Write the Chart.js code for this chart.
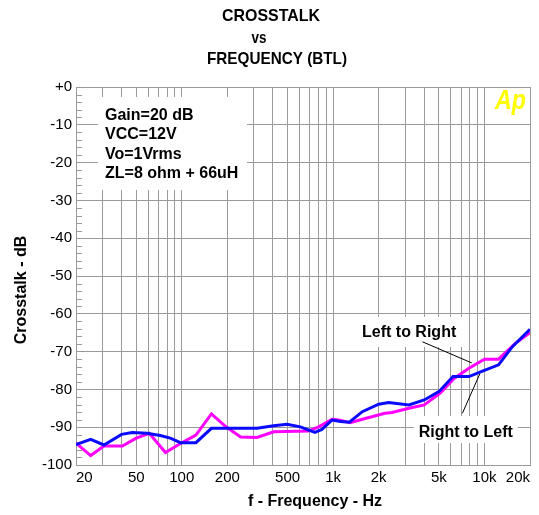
<!DOCTYPE html>
<html>
<head>
<meta charset="utf-8">
<title>Crosstalk vs Frequency (BTL)</title>
<script src="https://cdn.jsdelivr.net/npm/chart.js@4.4.1/dist/chart.umd.min.js"></script>
<style>
  html, body { margin: 0; padding: 0; background: #fff; }
</style>
</head>
<body>
<canvas id="xtalkChart" width="539" height="515"></canvas>
<script>
// curves (Hz / dB)
const rtlFreq = [20, 25, 30.6, 40, 47, 59, 72, 84, 98, 124, 157, 222, 314, 405, 496, 608, 758, 843, 985, 1120, 1280, 1560, 2000, 2330, 3170, 4000, 5000, 6200, 7900, 9800, 12400, 15300, 20000];
const rtlDb   = [-94.6, -93.2, -94.7, -91.9, -91.4, -91.6, -92.2, -92.9, -94.1, -94.1, -90.3, -90.3, -90.3, -89.6, -89.2, -89.9, -91.4, -90.6, -88.1, -88.5, -88.7, -85.9, -83.9, -83.5, -84.1, -82.8, -80.6, -76.6, -76.6, -75.1, -73.5, -68.7, -64.1];

const ltrFreq = [20, 25, 30.6, 40.5, 50, 61, 78, 98, 124, 157, 196, 222, 245, 314, 405, 688, 802, 985, 1090, 1300, 1560, 2200, 2450, 3170, 4000, 5100, 6300, 7900, 10000, 12400, 16000, 20000];
const ltrDb   = [-94.2, -97.5, -95.0, -95.0, -92.9, -91.6, -96.7, -94.3, -92.1, -86.5, -89.9, -91.4, -92.6, -92.7, -91.2, -91.0, -89.9, -87.9, -88.1, -88.8, -87.9, -86.3, -86.1, -85.0, -84.1, -81.0, -77.1, -74.4, -72.0, -72.0, -67.8, -65.0];

// axis ticks
const gridFreqs = [20, 30, 40, 50, 60, 70, 80, 90, 100, 200, 300, 400, 500, 600, 700, 800, 900,
                   1000, 2000, 3000, 4000, 5000, 6000, 7000, 8000, 9000, 10000, 20000];
const xLabelFreqs = [20, 50, 100, 200, 500, 1000, 2000, 5000, 10000, 20000];
const xLabelText  = ['20', '50', '100', '200', '500', '1k', '2k', '5k', '10k', '20k'];
const yTickValues = [0, -10, -20, -30, -40, -50, -60, -70, -80, -90, -100];
const yTickLabels = ['+0', '-10', '-20', '-30', '-40', '-50', '-60', '-70', '-80', '-90', '-100'];

const notes = ['Gain=20 dB', 'VCC=12V', 'Vo=1Vrms', 'ZL=8 ohm + 66uH'];

const FONT = '"Liberation Sans", Arial, sans-serif';
const GRID = '#9a9a9a';

function textBox(ctx, text, cx, base, w, above, below) {
  ctx.fillStyle = '#fff';
  ctx.fillRect(cx - w / 2, base - above, w, above + below);
  ctx.fillStyle = '#000';
  ctx.textAlign = 'center';
  ctx.fillText(text, cx, base);
}

const decorations = {
  id: 'decorations',
  beforeDatasetsDraw(chart) {
    const { ctx, chartArea: a, scales: { x, y } } = chart;
    const px = (f, db) => [x.getPixelForValue(f), y.getPixelForValue(db)];
    ctx.save();

    // minor ticks every 2 dB along the left edge
    ctx.strokeStyle = GRID;
    ctx.lineWidth = 1;
    for (let v = -98; v < 0; v += 2) {
      if (v % 10 === 0) continue;
      const py = Math.round(y.getPixelForValue(v)) + 0.5;
      ctx.beginPath();
      ctx.moveTo(a.left, py);
      ctx.lineTo(a.left + 6, py);
      ctx.stroke();
    }

    // test conditions
    ctx.fillStyle = '#fff';
    ctx.fillRect(a.left + 22, a.top + 10, 149, 93);
    ctx.fillStyle = '#000';
    ctx.font = 'bold 16px ' + FONT;
    ctx.textAlign = 'left';
    ctx.textBaseline = 'alphabetic';
    notes.forEach((t, i) => ctx.fillText(t, a.left + 29, a.top + 33 + i * 19.3));

    // curve labels + leaders
    let [lx, ly] = px(3180, -66.1);
    textBox(ctx, 'Left to Right', lx, ly, 110, 20, 10);
    let [rx, ry] = px(7530, -92.6);
    textBox(ctx, 'Right to Left', rx, ry, 104, 21, 6);

    ctx.strokeStyle = '#000';
    ctx.lineWidth = 1;
    ctx.beginPath();
    ctx.moveTo(...px(3890, -67.4));
    ctx.lineTo(...px(8250, -73.0));
    ctx.moveTo(...px(7150, -86.3));
    ctx.lineTo(...px(9320, -75.9));
    ctx.stroke();

    // Ap logo
    ctx.fillStyle = '#ffff00';
    ctx.font = 'italic bold 27px ' + FONT;
    ctx.textAlign = 'left';
    ctx.fillText('Ap', a.right - 35, a.top + 22, 31);
    ctx.restore();
  },
  afterDraw(chart) {
    const { ctx } = chart;
    ctx.save();
    ctx.fillStyle = '#000';
    ctx.textAlign = 'center';
    ctx.textBaseline = 'middle';
    ctx.font = 'bold 17px ' + FONT;
    ctx.fillText('CROSSTALK', 271, 16, 98);
    ctx.fillText('vs', 259, 38, 15);
    ctx.fillText('FREQUENCY (BTL)', 277, 59, 140);

    ctx.font = 'bold 16px ' + FONT;
    ctx.fillText('f - Frequency - Hz', 315, 502);
    ctx.translate(22, 290);
    ctx.rotate(-Math.PI / 2);
    ctx.fillText('Crosstalk - dB', 0, 0);
    ctx.restore();
  }
};

new Chart(document.getElementById('xtalkChart'), {
  type: 'scatter',
  data: {
    datasets: [
      {
        label: 'Right to Left',
        data: rtlFreq.map((f, i) => ({ x: f, y: rtlDb[i] })),
        borderColor: '#0a0aff',
        borderWidth: 3,
        showLine: true,
        pointRadius: 0,
        tension: 0,
      },
      {
        label: 'Left to Right',
        data: ltrFreq.map((f, i) => ({ x: f, y: ltrDb[i] })),
        borderColor: '#ff00ff',
        borderWidth: 3,
        showLine: true,
        pointRadius: 0,
        tension: 0,
      },
    ],
  },
  options: {
    responsive: false,
    animation: false,
    devicePixelRatio: 1,
    layout: { padding: { top: 87, right: 9, left: 0, bottom: 0 } },
    plugins: { legend: { display: false }, tooltip: { enabled: false } },
    scales: {
      x: {
        type: 'logarithmic',
        min: 20,
        max: 20000,
        afterBuildTicks: s => { s.ticks = gridFreqs.map(v => ({ value: v })); },
        afterFit: s => { s.height = 50; },
        grid: { color: GRID, drawTicks: false },
        border: { color: GRID },
        ticks: {
          autoSkip: false,
          maxRotation: 0,
          align: 'inner',
          padding: 4,
          color: '#000',
          font: { family: FONT, size: 15 },
          callback: v => {
            const i = xLabelFreqs.indexOf(v);
            return i < 0 ? '' : xLabelText[i];
          },
        },
      },
      y: {
        min: -100,
        max: 0,
        afterBuildTicks: s => { s.ticks = yTickValues.map(v => ({ value: v })); },
        afterFit: s => { s.width = 76; },
        grid: { color: GRID, drawTicks: false },
        border: { color: GRID },
        ticks: {
          padding: 4,
          color: '#000',
          font: { family: FONT, size: 15 },
          callback: v => yTickLabels[yTickValues.indexOf(v)],
        },
      },
    },
  },
  plugins: [decorations],
});
</script>
</body>
</html>
